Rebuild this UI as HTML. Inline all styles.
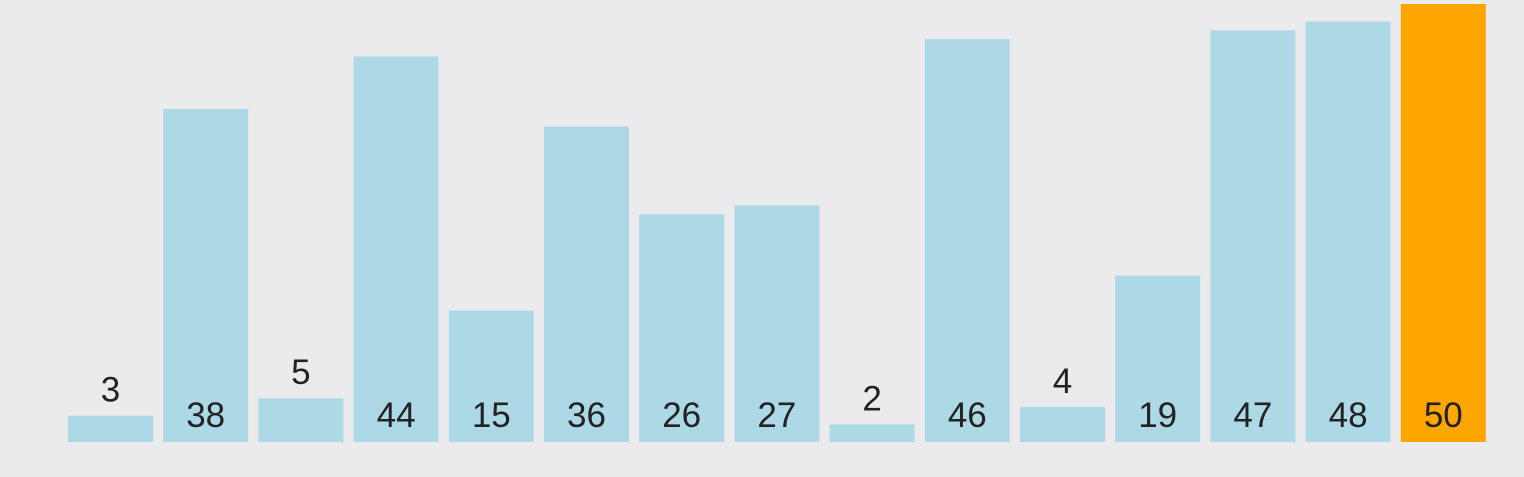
<!DOCTYPE html>
<html><head><meta charset="utf-8">
<style>
html,body{margin:0;padding:0;background:#ebebed;}
svg{display:block;}
text{font-family:"Liberation Sans",sans-serif;font-size:35px;fill:#222;text-anchor:middle;}
</style></head>
<body>
<svg id="chart" width="1524" height="477" viewBox="0 0 1524 477">
<rect x="0" y="0" width="1524" height="477" fill="#ebebed"/>
<g id="bars"></g>
</svg>
<script>
const values = [3,38,5,44,15,36,26,27,2,46,4,19,47,48,50];
const highlight = [14];
const maxValue = 50;
const svg = document.getElementById('bars');
const NS = 'http://www.w3.org/2000/svg';
const x0 = 68, pitch = 95.2, bw = 85, baseY = 442, plotH = 438;
function xPos(i){ return x0 + i*pitch; }
function yPos(v){ return baseY - v/maxValue*plotH; }
values.forEach((v,i)=>{
  const r = document.createElementNS(NS,'rect');
  
  
  r.setAttribute('x', xPos(i));
  r.setAttribute('y', yPos(v));
  r.setAttribute('width', bw);
  r.setAttribute('height', baseY - yPos(v));
  r.setAttribute('fill', highlight.includes(i) ? '#ffa500' : '#add8e6');
  svg.appendChild(r);
  const t = document.createElementNS(NS,'text');
  
  
  t.setAttribute('x', xPos(i) + bw/2);
  const h = baseY - yPos(v);
  t.setAttribute('y', h > 45 ? 427 : yPos(v) - 14);
  t.textContent = v;
  svg.appendChild(t);
});
</script>
</body></html>
